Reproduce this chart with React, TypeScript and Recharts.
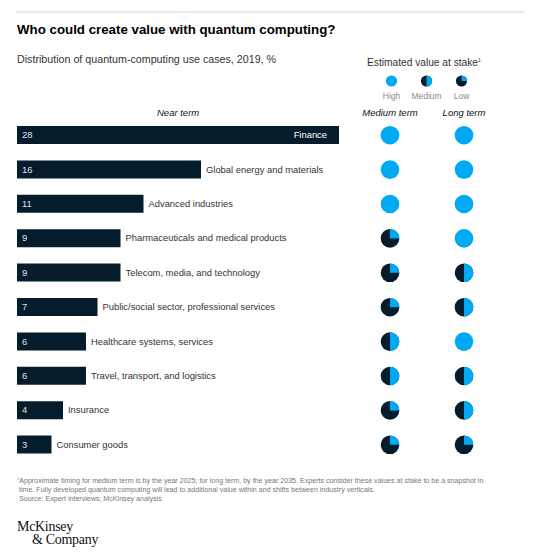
import { BarChart, Bar, XAxis, YAxis, LabelList, ScatterChart, Scatter, Sector } from "recharts";

const industries = [
  "Finance",
  "Global energy and materials",
  "Advanced industries",
  "Pharmaceuticals and medical products",
  "Telecom, media, and technology",
  "Public/social sector, professional services",
  "Healthcare systems, services",
  "Travel, transport, and logistics",
  "Insurance",
  "Consumer goods",
];

// near-term share of use cases, %
const nearTermShare = [28, 16, 11, 9, 9, 7, 6, 6, 4, 3];

// estimated value at stake per industry
const mediumTermValue = ["High", "High", "High", "Low", "Low", "Low", "Medium", "Medium", "Low", "Low"];
const longTermValue = ["High", "High", "High", "High", "Medium", "Medium", "High", "Medium", "Medium", "Low"];

const terms = ["Medium term", "Long term"];
const valueLevels = ["High", "Medium", "Low"];
const levelShare: Record<string, number> = { High: 1, Medium: 0.5, Low: 0.25 };

const NAVY = "#051C2C";
const CYAN = "#00A9F4";
const FONT = "'Liberation Sans', Arial, sans-serif";

const barData = industries.map((name, i) => ({ name, share: nearTermShare[i] }));
const mediumData = industries.map((name, i) => ({ name, term: terms[0], level: mediumTermValue[i] }));
const longData = industries.map((name, i) => ({ name, term: terms[1], level: longTermValue[i] }));
const legendData = valueLevels.map((level) => ({ level, row: "legend" }));

function ValuePie(props: any, r: number) {
  const { cx, cy, payload } = props;
  const share = levelShare[payload.level];
  return (
    <g>
      <circle cx={cx} cy={cy} r={r} fill={share >= 1 ? CYAN : NAVY} />
      {share < 1 && (
        <Sector
          cx={cx}
          cy={cy}
          innerRadius={0}
          outerRadius={r}
          startAngle={90 - 360 * share}
          endAngle={90}
          fill={CYAN}
        />
      )}
    </g>
  );
}

const renderBarLabel = (props: any) => {
  const { x, y, width, height, index } = props;
  const mid = y + height / 2;
  const inside = width > 250;
  return (
    <g fontFamily={FONT} fontSize={9.4}>
      <text x={x + 5} y={mid} dy="0.35em" fill="#dfe3e6">
        {nearTermShare[index]}
      </text>
      <text
        x={inside ? x + width - 12 : x + width + 5}
        y={mid}
        dy="0.35em"
        textAnchor={inside ? "end" : "start"}
        fill={inside ? "#ffffff" : "#333333"}
      >
        {industries[index]}
      </text>
    </g>
  );
};

export default function App() {
  return (
    <div
      style={{
        position: "absolute",
        left: 0,
        top: 0,
        width: 540,
        height: 553,
        background: "#fff",
        fontFamily: FONT,
        color: "#000",
      }}
    >
      <div style={{ position: "absolute", left: 16, top: 11, width: 508, height: 1.5, background: "#e8e8e8" }} />
      <div style={{ position: "absolute", left: 17, top: 22, fontSize: 13.3, fontWeight: "bold", whiteSpace: "nowrap" }}>
        Who could create value with quantum computing?
      </div>
      <div style={{ position: "absolute", left: 17, top: 53, fontSize: 10.7, color: "#333", whiteSpace: "nowrap" }}>
        Distribution of quantum-computing use cases, 2019, %
      </div>
      <div style={{ position: "absolute", left: 367, top: 57, fontSize: 10.2, color: "#333", whiteSpace: "nowrap" }}>
        Estimated value at stake<sup style={{ fontSize: 5 }}>1</sup>
      </div>

      {/* legend of value levels */}
      <div style={{ position: "absolute", left: 374, top: 72 }}>
        <ScatterChart width={105} height={32} margin={{ top: 0, right: 0, bottom: 0, left: 0 }}>
          <XAxis
            dataKey="level"
            type="category"
            allowDuplicatedCategory={false}
            axisLine={false}
            tickLine={false}
            height={14}
            interval={0}
            tick={({ x, payload }: any) => (
              <text x={x} y={27} textAnchor="middle" fontSize={8.5} fill="#8a8a8a" fontFamily={FONT}>
                {payload.value}
              </text>
            )}
          />
          <YAxis dataKey="row" type="category" allowDuplicatedCategory={false} hide />
          <Scatter data={legendData} isAnimationActive={false} shape={(p: any) => ValuePie(p, 5.6)} />
        </ScatterChart>
      </div>

      <div
        style={{
          position: "absolute",
          left: 157,
          top: 107,
          fontSize: 9.5,
          fontStyle: "italic",
          color: "#111",
          whiteSpace: "nowrap",
        }}
      >
        Near term
      </div>

      <div style={{ position: "absolute", left: 0, top: 100 }}>
        <BarChart
          layout="vertical"
          width={360}
          height={362}
          data={barData}
          margin={{ top: 18, right: 21, bottom: 0, left: 17 }}
          barCategoryGap={0}
        >
          <XAxis type="number" domain={[0, 28]} hide />
          <YAxis type="category" dataKey="name" hide />
          <Bar dataKey="share" fill={NAVY} barSize={18} isAnimationActive={false}>
            <LabelList dataKey="share" content={renderBarLabel} />
          </Bar>
        </BarChart>
      </div>

      <div style={{ position: "absolute", left: 353, top: 100 }}>
        <ScatterChart width={148} height={362} margin={{ top: 0, right: 0, bottom: 0, left: 0 }}>
          <XAxis
            dataKey="term"
            type="category"
            orientation="top"
            allowDuplicatedCategory={false}
            axisLine={false}
            tickLine={false}
            height={18}
            interval={0}
            tick={({ x, payload }: any) => (
              <text
                x={x}
                y={16}
                textAnchor="middle"
                fontSize={9.5}
                fontStyle="italic"
                fill="#111"
                fontFamily={FONT}
              >
                {payload.value}
              </text>
            )}
          />
          <YAxis dataKey="name" type="category" allowDuplicatedCategory={false} reversed hide />
          <Scatter data={mediumData} isAnimationActive={false} shape={(p: any) => ValuePie(p, 9.3)} />
          <Scatter data={longData} isAnimationActive={false} shape={(p: any) => ValuePie(p, 9.3)} />
        </ScatterChart>
      </div>

      <div
        style={{
          position: "absolute",
          left: 17,
          top: 475,
          fontSize: 7.1,
          lineHeight: "8.6px",
          color: "#777",
          whiteSpace: "nowrap",
        }}
      >
        <div>
          <sup style={{ fontSize: 4 }}>1</sup>Approximate timing for medium term is by the year 2025; for long term, by the year 2035. Experts
          consider these values at stake to be a snapshot in
        </div>
        <div style={{ paddingLeft: 2 }}>
          time. Fully developed quantum computing will lead to additional value within and shifts between industry verticals.
        </div>
        <div style={{ paddingLeft: 2 }}>Source: Expert interviews; McKinsey analysis</div>
      </div>

      <div
        style={{
          position: "absolute",
          left: 17,
          top: 520,
          fontFamily: "'Liberation Serif', 'Times New Roman', serif",
          fontSize: 14,
          lineHeight: "13px",
          color: "#111",
          letterSpacing: -0.3,
        }}
      >
        <div>McKinsey</div>
        <div style={{ paddingLeft: 15 }}>&amp; Company</div>
      </div>
    </div>
  );
}
